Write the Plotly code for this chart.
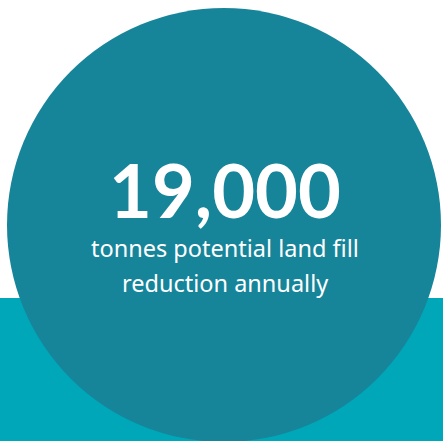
import plotly.graph_objects as go

headline_value = "19,000"
caption_lines = ["tonnes potential land fill", "reduction annually"]

W, H = 443, 441
circle_color = "#16859A"
band_color = "#00A7B9"

fig = go.Figure()
fig.add_trace(go.Scatter(x=[0, W], y=[0, H], mode="markers", marker=dict(opacity=0), hoverinfo="skip", showlegend=False))

fig.add_shape(type="rect", xref="x", yref="y", x0=0, x1=W, y0=298, y1=H,
              fillcolor=band_color, line=dict(width=0), layer="below")
fig.add_shape(type="circle", xref="x", yref="y", x0=7, x1=441, y0=8, y1=442,
              fillcolor=circle_color, line=dict(width=0), layer="below")

fig.add_annotation(x=225, y=189, xref="x", yref="y", text="<b>" + headline_value + "</b>",
                   showarrow=False, font=dict(family="Lato", size=74, color="white"))
fig.add_annotation(x=225, y=248, xref="x", yref="y", text=caption_lines[0],
                   showarrow=False, font=dict(family="Noto Sans", size=23.5, color="white"))
fig.add_annotation(x=225, y=283, xref="x", yref="y", text=caption_lines[1],
                   showarrow=False, font=dict(family="Noto Sans", size=23.5, color="white"))

fig.update_layout(
    width=W, height=H, margin=dict(l=0, r=0, t=0, b=0),
    paper_bgcolor="white", plot_bgcolor="white",
    xaxis=dict(range=[0, W], visible=False, fixedrange=True),
    yaxis=dict(range=[H, 0], visible=False, fixedrange=True),
)
fig.write_html("out.html", config={"displayModeBar": False})

with open("out.html", "r", encoding="utf-8") as f:
    html = f.read()
html = html.replace("<body>", '<body style="margin:0;padding:0;overflow:hidden">', 1)
with open("out.html", "w", encoding="utf-8") as f:
    f.write(html)
